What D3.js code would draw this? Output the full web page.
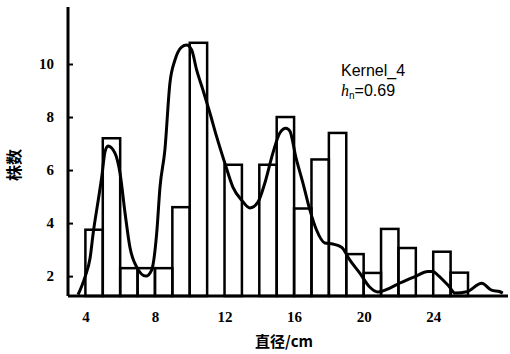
<!DOCTYPE html>
<html>
<head>
<meta charset="utf-8">
<script src="https://cdn.jsdelivr.net/npm/d3@7/dist/d3.min.js"></script>
<style>
  html, body { margin: 0; padding: 0; background: #fff; }
  svg { display: block; }
</style>
</head>
<body>
<svg id="chart" width="510" height="354"></svg>
<script>
// histogram: diameter class (lower edge, cm) and tree count
const binStart = [4, 5, 6, 7, 8, 9, 10, 11, 12, 13, 14, 15, 16, 17, 18, 19, 20, 21, 22, 23, 24, 25];
const binCount = [3.75, 7.2, 2.3, 2.3, 2.3, 4.6, 10.8, 0, 6.2, 0, 6.2, 8.0, 4.55, 6.4, 7.4, 2.83, 2.12, 3.78, 3.06, 0, 2.92, 2.13];

// kernel density curve
const kdeX = [3.58, 3.98, 4.27, 4.45, 4.74, 4.94, 5.13, 5.30, 5.70, 5.99, 6.28, 6.56, 6.95, 7.48, 7.81,
  8.10, 8.29, 8.57, 8.86, 9.15, 9.53, 9.82, 10.11, 10.40, 10.76, 11.16, 11.55, 12.02, 12.48, 12.98,
  13.46, 13.92, 14.32, 14.78, 15.18, 15.53, 15.76, 16.10, 16.51, 16.91, 17.29, 17.77, 18.23, 18.73,
  19.21, 19.78, 20.36, 20.82, 21.51, 22.09, 22.95, 23.70, 23.99, 24.26, 24.90, 25.26, 25.93, 26.79,
  27.35, 27.84, 28.0];
const kdeY = [1.30, 1.97, 2.68, 3.63, 4.87, 5.74, 6.70, 6.91, 6.64, 5.89, 4.38, 3.09, 2.34, 2.00, 2.23,
  3.62, 5.36, 6.75, 9.28, 10.15, 10.64, 10.72, 10.53, 9.77, 9.02, 8.15, 7.25, 6.26, 5.36, 4.87,
  4.57, 4.79, 5.51, 6.64, 7.40, 7.58, 7.47, 6.49, 5.51, 4.49, 3.74, 3.25, 3.21, 3.09,
  2.60, 2.11, 1.58, 1.40, 1.55, 1.74, 1.98, 2.17, 2.17, 2.04, 1.62, 1.36, 1.41, 1.73,
  1.47, 1.41, 1.36];

const xTicks = [4, 8, 12, 16, 20, 24];
const yTicks = [2, 4, 6, 8, 10];

const svg = d3.select('#chart');

const x = d3.scaleLinear().domain([3, 28.3]).range([68, 508]);
const y = d3.scaleLinear().domain([1.25, 12.15]).range([296, 7]);

const serif = '"Liberation Serif", "DejaVu Serif", serif';

// bars
const bars = binStart.map((b, i) => ({ x0: b, x1: b + 1, v: binCount[i] }))
  .filter(d => d.v > y.domain()[0]);

svg.append('g')
  .selectAll('rect')
  .data(bars)
  .enter().append('rect')
  .attr('x', d => x(d.x0))
  .attr('y', d => y(d.v))
  .attr('width', d => x(d.x1) - x(d.x0))
  .attr('height', d => y(y.domain()[0]) - y(d.v))
  .attr('fill', 'none')
  .attr('stroke', '#000')
  .attr('stroke-width', 2.5);

// density curve
const line = d3.line()
  .x(d => x(d[0]))
  .y(d => y(d[1]))
  .curve(d3.curveMonotoneX);

svg.append('path')
  .datum(kdeX.map((v, i) => [v, kdeY[i]]))
  .attr('fill', 'none')
  .attr('stroke', '#000')
  .attr('stroke-width', 3)
  .attr('stroke-linejoin', 'round')
  .attr('d', line);

// Y axis
const yAxis = svg.append('g')
  .attr('transform', `translate(${x(3)},0)`)
  .call(d3.axisLeft(y).tickValues(yTicks).tickSize(-5).tickPadding(14));
yAxis.select('.domain').attr('stroke-width', 3).attr('d', `M0,${y.range()[1]}V${y.range()[0]}`);
yAxis.selectAll('.tick line').attr('stroke-width', 2);
yAxis.selectAll('text')
  .attr('font-family', serif)
  .attr('font-size', 15)
  .attr('font-weight', 'bold')
  .attr('fill', '#000');

// X axis
const xAxis = svg.append('g')
  .attr('transform', `translate(0,${y.range()[0]})`)
  .call(d3.axisBottom(x).tickValues(xTicks).tickSize(0).tickPadding(15));
xAxis.select('.domain').attr('stroke-width', 3).attr('d', `M${x.range()[0]},0H${x.range()[1]}`);
xAxis.selectAll('text')
  .attr('font-family', serif)
  .attr('font-size', 15)
  .attr('font-weight', 'bold')
  .attr('fill', '#000');

// axis titles
svg.append('text')
  .attr('transform', 'translate(20,165) rotate(-90)')
  .attr('text-anchor', 'middle')
  .attr('font-family', '"Noto Sans CJK SC", sans-serif')
  .attr('font-size', 16)
  .attr('font-weight', 'bold')
  .text('株数');

svg.append('text')
  .attr('x', 284)
  .attr('y', 347)
  .attr('text-anchor', 'middle')
  .attr('font-family', '"Noto Sans CJK SC", sans-serif')
  .attr('font-size', 15)
  .attr('font-weight', 'bold')
  .text('直径/cm');

// kernel label
svg.append('text')
  .attr('x', 341)
  .attr('y', 76)
  .attr('font-family', '"Liberation Sans", Arial, sans-serif')
  .attr('font-size', 16)
  .text('Kernel_4');

const hn = svg.append('text')
  .attr('x', 341)
  .attr('y', 96)
  .attr('font-family', '"Liberation Sans", Arial, sans-serif')
  .attr('font-size', 16);
hn.append('tspan').attr('font-family', serif).attr('font-style', 'italic').text('h');
hn.append('tspan').attr('font-size', 10).attr('dy', 3).text('n');
hn.append('tspan').attr('dy', -3).text('=0.69');
</script>
</body>
</html>
